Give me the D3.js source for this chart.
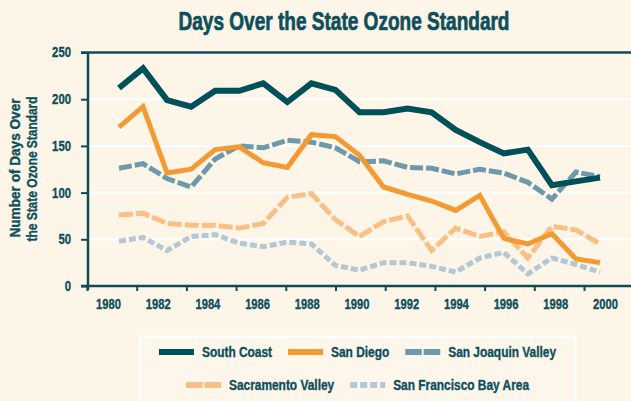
<!DOCTYPE html>
<html>
<head>
<meta charset="utf-8">
<script src="https://cdn.jsdelivr.net/npm/d3@7"></script>
<style>
  html, body { margin: 0; padding: 0; background: #fdf5e8; }
  svg text { font-family: "Liberation Sans", Arial, sans-serif; font-weight: bold; fill: #0d4f5b;
    stroke: #0d4f5b; stroke-width: 0.35px; }
</style>
</head>
<body>
<div id="chart"></div>
<script>
const WIDTH = 631;
const HEIGHT = 401;
const INK = "#0b4e5a";

const years = [1980, 1981, 1982, 1983, 1984, 1985, 1986, 1987, 1988, 1989, 1990,
  1991, 1992, 1993, 1994, 1995, 1996, 1997, 1998, 1999, 2000];
const southCoast = [212, 233, 199, 192, 209, 209, 217, 197, 217, 210, 186,
  186, 190, 186, 167, 154, 142, 146, 108, 112, 116];
const sanDiego = [170, 192, 121, 125, 146, 149, 132, 127, 162, 160, 140,
  106, 98, 91, 81, 97, 51, 45, 56, 29, 25];
const sanJoaquin = [126, 131, 115, 106, 136, 150, 148, 156, 154, 148, 133,
  134, 127, 126, 120, 125, 121, 111, 93, 122, 117];
const sacramento = [76, 78, 67, 65, 65, 62, 67, 95, 99, 71, 53,
  69, 75, 38, 62, 53, 58, 30, 64, 60, 45];
const sfBay = [48, 52, 38, 53, 55, 46, 42, 47, 45, 22, 17,
  25, 25, 21, 15, 30, 36, 13, 30, 23, 15];

const yTicks = [0, 50, 100, 150, 200, 250];
const xTickYears = [1980, 1982, 1984, 1986, 1988, 1990, 1992, 1994, 1996, 1998, 2000];

const series = [
  { name: "San Francisco Bay Area", values: sfBay, color: "#b3c8d4", width: 5, dash: "7,3", key: "7,3" },
  { name: "Sacramento Valley", values: sacramento, color: "#f9bf84", width: 5, dash: "14,3", key: "16.5,2" },
  { name: "San Joaquin Valley", values: sanJoaquin, color: "#6d99aa", width: 5, dash: "13,3", key: "16.5,2" },
  { name: "San Diego", values: sanDiego, color: "#f49a30", width: 5, dash: null, key: null },
  { name: "South Coast", values: southCoast, color: "#00505a", width: 6, dash: null, key: null }
];
const legendRows = [
  ["South Coast", "San Diego", "San Joaquin Valley"],
  ["Sacramento Valley", "San Francisco Bay Area"]
];

// the original uses a bold condensed face; squeeze Liberation Sans to match
const condense = (sel, factor) => {
  sel.each(function () {
    let w = this.getComputedTextLength();
    d3.select(this).attr("textLength", w * factor).attr("lengthAdjust", "spacingAndGlyphs");
  });
};

const svg = d3.select("#chart").append("svg")
  .attr("width", WIDTH)
  .attr("height", HEIGHT);

svg.append("rect").attr("width", WIDTH).attr("height", HEIGHT).attr("fill", "#fdf5e8");

// data x positions, and the (offset) axis ticks of the original
let x = d3.scaleLinear().domain([1980, 2000]).range([119, 600]);
let xAxisScale = d3.scaleLinear().domain([1980, 2000]).range([87, 584]);
let y = d3.scaleLinear().domain([0, 250]).range([286, 52.5]);

// gridlines
svg.append("g")
  .selectAll("line")
  .data(yTicks.filter(d => d > 0 && d < 250))
  .enter()
  .append("line")
  .attr("x1", 88)
  .attr("x2", WIDTH)
  .attr("y1", d => y(d))
  .attr("y2", d => y(d))
  .attr("stroke", "#ffffff")
  .attr("stroke-width", 2);

// top frame line
svg.append("line")
  .attr("x1", 81).attr("x2", WIDTH)
  .attr("y1", y(250)).attr("y2", y(250))
  .attr("stroke", INK).attr("stroke-width", 2.5);

// lines
let line = d3.line()
  .x((d, i) => x(years[i]))
  .y(d => y(d));

svg.append("g")
  .selectAll("path")
  .data(series)
  .enter()
  .append("path")
  .attr("d", d => line(d.values))
  .attr("fill", "none")
  .attr("stroke", d => d.color)
  .attr("stroke-width", d => d.width)
  .attr("stroke-dasharray", d => d.dash);

// y axis
let yAxis = svg.append("g")
  .attr("transform", "translate(88,0)")
  .call(d3.axisLeft(y).tickValues(yTicks).tickSize(7).tickPadding(10));
yAxis.select(".domain").attr("stroke", INK).attr("stroke-width", 2.5)
  .attr("d", `M0,${y(250)}V290`);
yAxis.selectAll(".tick line").attr("stroke", INK).attr("stroke-width", 2);
yAxis.selectAll(".tick text").style("font-size", "14px").attr("fill", INK).call(condense, 0.81);

// x axis
let xAxis = svg.append("g")
  .attr("transform", `translate(0,${y(0)})`)
  .call(d3.axisBottom(xAxisScale).tickValues(xTickYears).tickSize(5).tickPadding(8).tickFormat(d3.format("d")));
xAxis.select(".domain").attr("stroke", INK).attr("stroke-width", 2.5)
  .attr("d", `M81,0H${WIDTH}`);
xAxis.selectAll(".tick line").attr("stroke", INK).attr("stroke-width", 2);
xAxis.selectAll(".tick text").style("font-size", "14px").attr("fill", INK).attr("dx", 21).call(condense, 0.8);

// titles
svg.append("text")
  .attr("x", 344)
  .attr("y", 30)
  .attr("text-anchor", "middle")
  .style("font-size", "25px")
  .style("stroke-width", "0.7px")
  .attr("textLength", 331)
  .attr("lengthAdjust", "spacingAndGlyphs")
  .text("Days Over the State Ozone Standard");

let yTitle = svg.append("text")
  .attr("transform", "translate(24,166) rotate(-90)")
  .attr("text-anchor", "middle")
  .style("font-size", "14px");
yTitle.append("tspan").attr("x", -2).attr("dy", -4)
  .attr("textLength", 139).attr("lengthAdjust", "spacingAndGlyphs")
  .text("Number of Days Over");
yTitle.append("tspan").attr("x", -3).attr("dy", 17)
  .attr("textLength", 145).attr("lengthAdjust", "spacingAndGlyphs")
  .text("the State Ozone Standard");

// legend
svg.append("rect")
  .attr("x", 140).attr("y", 337)
  .attr("width", 435).attr("height", 80)
  .attr("fill", "#fdf6ea")
  .attr("stroke", "#ffffff").attr("stroke-width", 2.5);

let legendY = [352, 385];
legendRows.forEach((row, r) => {
  let g = svg.append("g");
  let cx = 0;
  row.forEach(name => {
    let s = series.find(d => d.name === name);
    g.append("line")
      .attr("x1", cx).attr("x2", cx + 35)
      .attr("y1", legendY[r]).attr("y2", legendY[r])
      .attr("stroke", s.color).attr("stroke-width", 6)
      .attr("stroke-dasharray", s.key);
    let t = g.append("text")
      .attr("x", cx + 43).attr("y", legendY[r] + 5)
      .style("font-size", "14px")
      .text(name);
    let w = t.node().getComputedTextLength() * 0.85;
    t.attr("textLength", w).attr("lengthAdjust", "spacingAndGlyphs");
    cx += 43 + w + 16;
  });
  let w = cx - 16;
  g.attr("transform", `translate(${357.5 - w / 2},0)`);
});
</script>
</body>
</html>
